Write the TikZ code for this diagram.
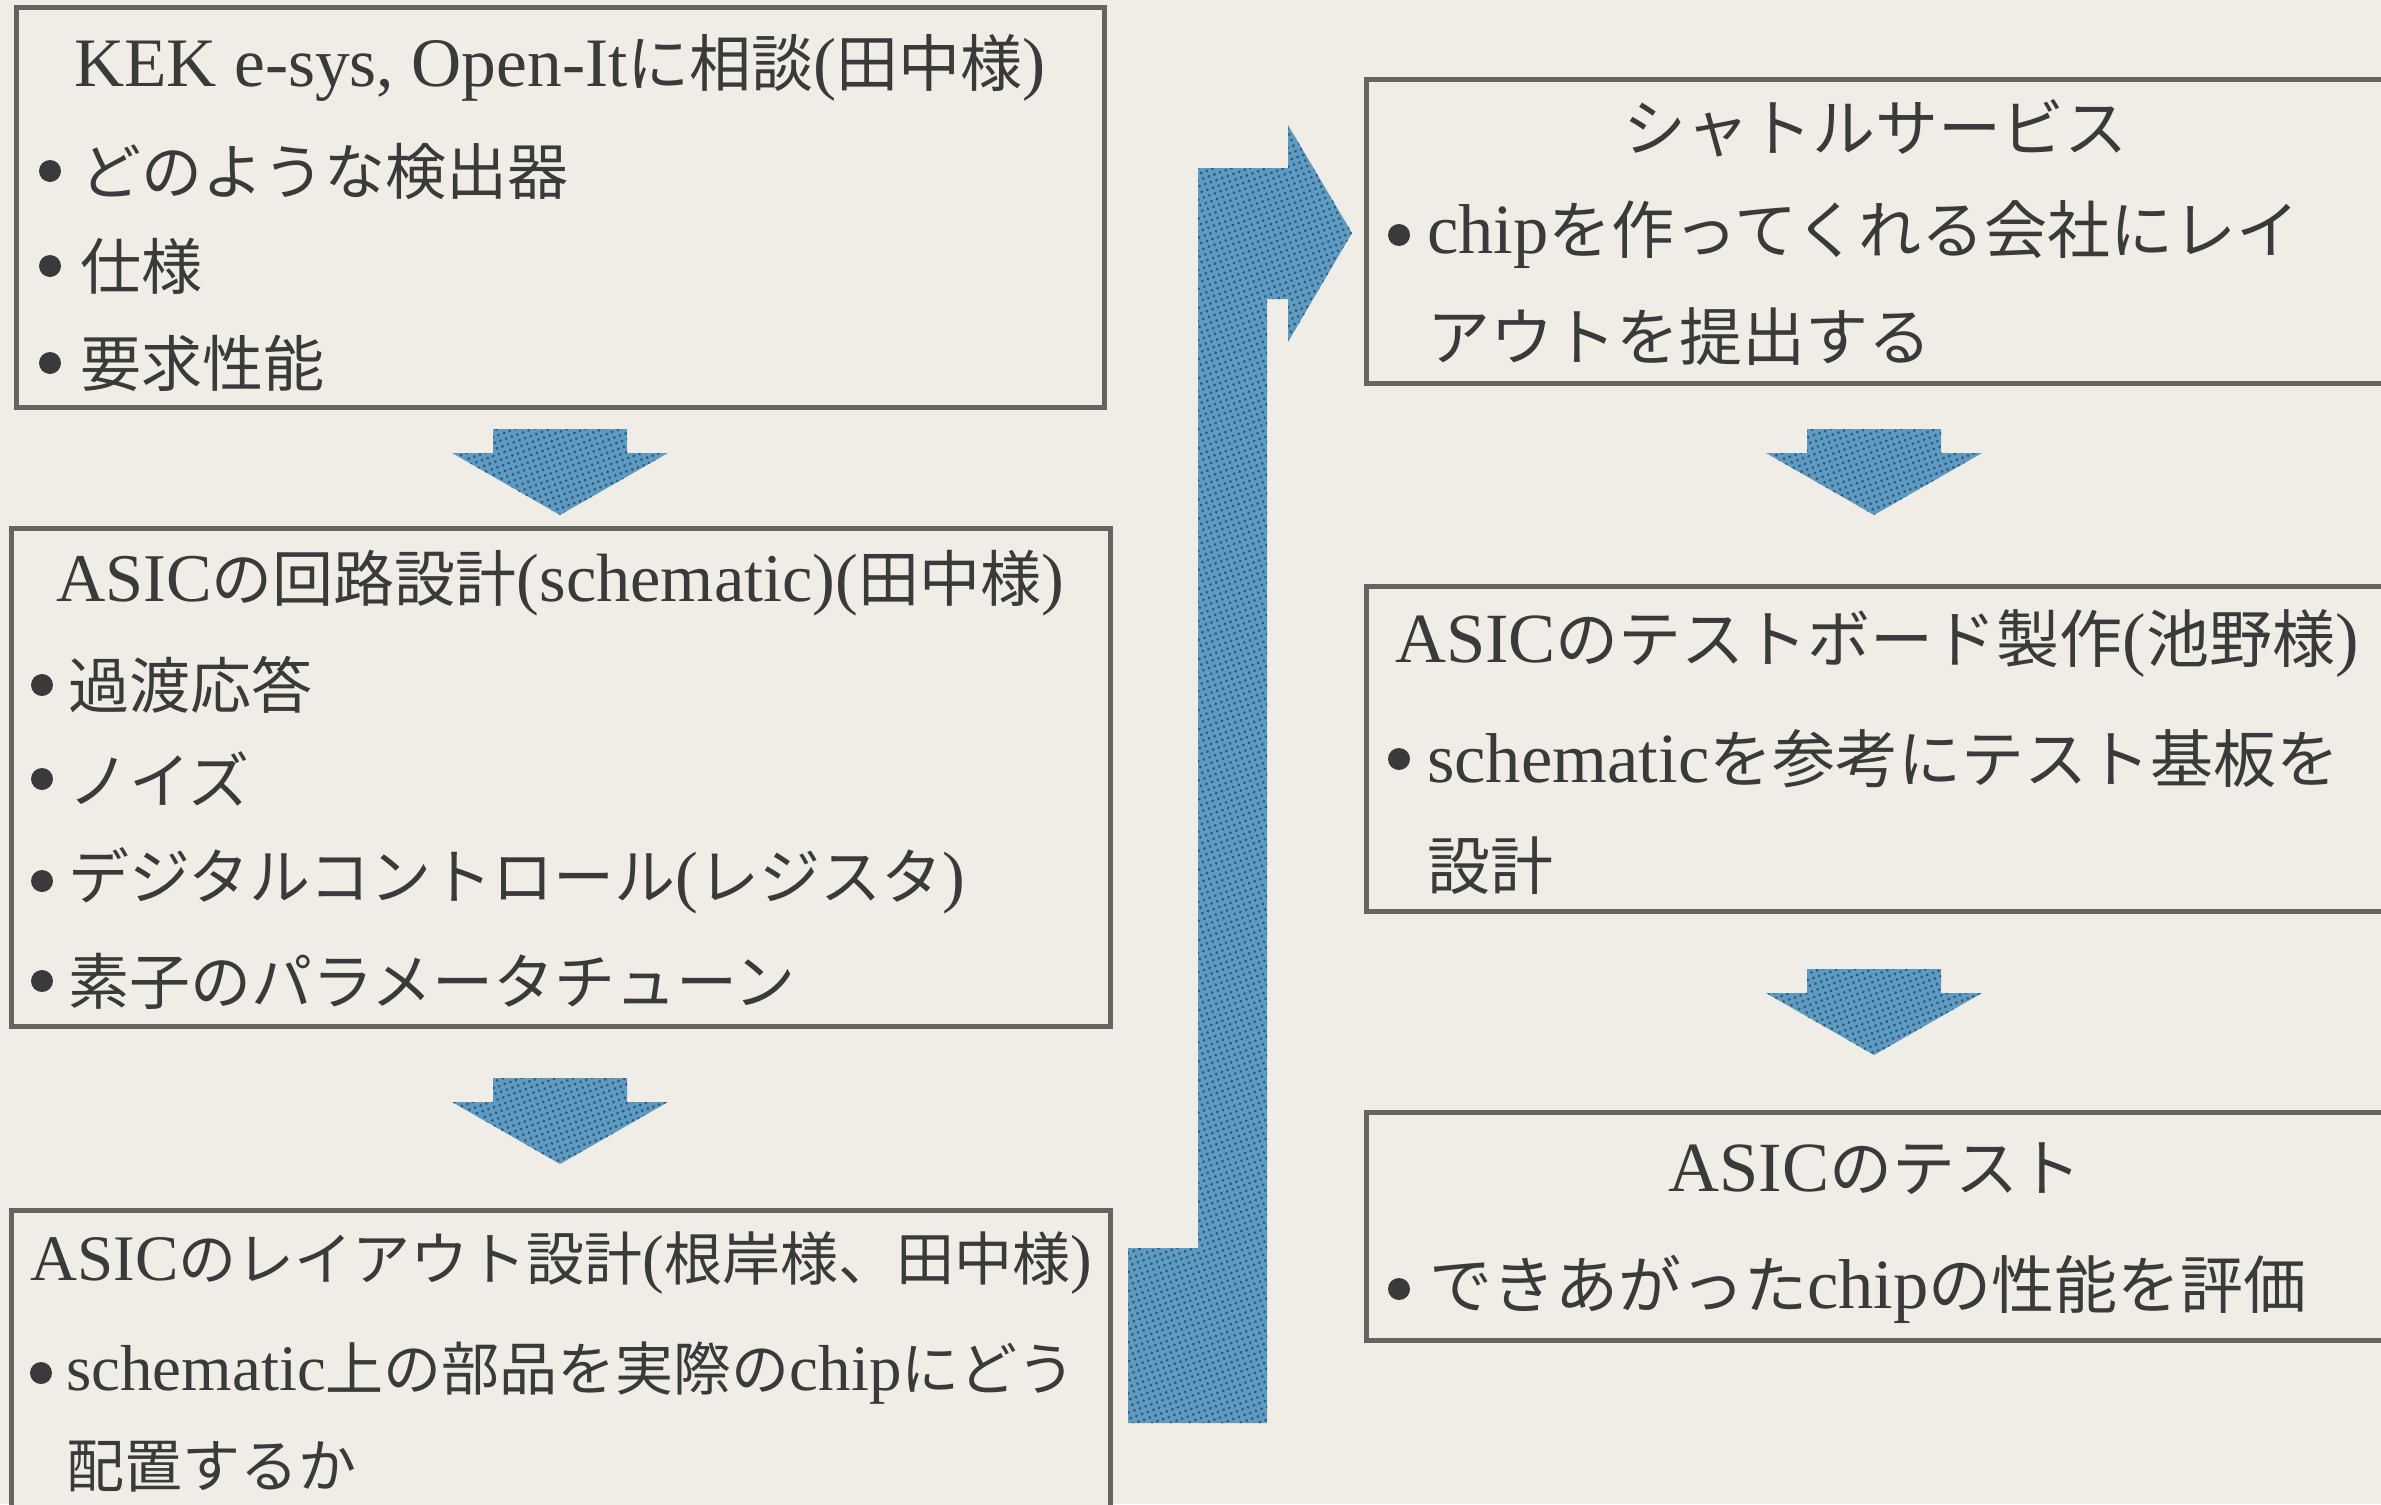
\documentclass[tikz,border=0pt]{standalone}
\usepackage{fontspec}
\setmainfont{Noto Sans CJK JP}
\newfontfamily\latfont[Scale=1.12]{Liberation Serif}
\newcommand\latn[1]{{\latfont #1}}
\usetikzlibrary{patterns.meta}
\definecolor{paper}{HTML}{F0EDE7}
\definecolor{boxline}{HTML}{67635E}
\definecolor{ink}{HTML}{3A3A3A}
\definecolor{arrowblue}{HTML}{5F9AC0}
\definecolor{dotblue}{HTML}{2C5C82}
\tikzset{
  box/.style={draw=boxline, line width=5pt, fill=paper, inner sep=0pt},
  txt/.style={text=ink, inner sep=0pt, font=\fontsize{61}{68}\selectfont},
  rtxt/.style={font=\fontsize{63}{70}\selectfont},
  ttl/.style={txt, anchor=center},
  itm/.style={txt, anchor=west},
  bul/.style={circle, fill=ink, minimum size=22pt, inner sep=0pt},
  blk/.style={fill=arrowblue, postaction={pattern={Dots[distance=6pt,radius=1.6pt,angle=20]}, pattern color=dotblue}}
}
\begin{document}
\begin{tikzpicture}[x=1pt,y=-1pt]
\fill[paper] (0,0) rectangle (2381,1504);
\useasboundingbox (0,0) rectangle (2381,1504);

% boxes
\node[box, minimum width=1088pt, minimum height=399pt] (b1) at (560,207.5) {};
\node[box, minimum width=1099pt, minimum height=498pt] (b2) at (560.5,777) {};
\node[box, minimum width=1099pt, minimum height=330pt] (b3) at (560.5,1375) {};
\node[box, minimum width=1030pt, minimum height=304pt] (r1) at (1881,231) {};
\node[box, minimum width=1030pt, minimum height=325pt] (r2) at (1881,748.5) {};
\node[box, minimum width=1030pt, minimum height=228pt] (r3) at (1881,1226) {};

% box 1
\node[ttl, font=\fontsize{62}{70}\selectfont] (t1) at (560,68) {\latn{KEK e-sys, Open-It}に相談\latn{(}田中様\latn{)}};
\node[bul] (u11) at (50,171) {};
\node[itm] (i11) at (80,171) {どのような検出器};
\node[bul] (u12) at (50,266) {};
\node[itm] (i12) at (80,266) {仕様};
\node[bul] (u13) at (50,363) {};
\node[itm] (i13) at (80,363) {要求性能};

% box 2
\node[ttl] (t2) at (560,583) {\latn{ASIC}の回路設計\latn{(schematic)(}田中様\latn{)}};
\node[bul] (u21) at (42,685) {};
\node[itm] (i21) at (68,685) {過渡応答};
\node[bul] (u22) at (42,779) {};
\node[itm] (i22) at (68,779) {ノイズ};
\node[bul] (u23) at (42,881) {};
\node[itm] (i23) at (68,881) {デジタルコントロール\latn{(}レジスタ\latn{)}};
\node[bul] (u24) at (42,981) {};
\node[itm] (i24) at (68,981) {素子のパラメータチューン};

% box 3
\node[ttl, font=\fontsize{58}{64}\selectfont] (t3) at (561,1263) {\latn{ASIC}のレイアウト設計\latn{(}根岸様、田中様\latn{)}};
\node[bul] (u31) at (41,1373) {};
\node[itm, font=\fontsize{58}{64}\selectfont] (i31) at (66,1373) {\latn{schematic}上の部品を実際の\latn{chip}にどう};
\node[itm, font=\fontsize{58}{64}\selectfont] (i32) at (66,1467) {配置するか};

% right box 1
\node[ttl, rtxt] (t4) at (1875,128) {シャトルサービス};
\node[bul] (u41) at (1399,235) {};
\node[itm, rtxt] (i41) at (1427,235) {\latn{chip}を作ってくれる会社にレイ};
\node[itm, rtxt] (i42) at (1427,337) {アウトを提出する};

% right box 2
\node[ttl, rtxt] (t5) at (1877,644) {\latn{ASIC}のテストボード製作\latn{(}池野様\latn{)}};
\node[bul] (u51) at (1399,759) {};
\node[itm, rtxt] (i51) at (1427,759) {\latn{schematic}を参考にテスト基板を};
\node[itm, rtxt] (i52) at (1427,866) {設計};

% right box 3
\node[ttl, rtxt] (t6) at (1875,1169) {\latn{ASIC}のテスト};
\node[bul] (u61) at (1399,1289) {};
\node[itm, rtxt] (i61) at (1429,1289) {できあがった\latn{chip}の性能を評価};

% down arrows
\foreach \cx/\y in {560/429, 560/1078, 1874/429, 1874/969}{
  \path[blk] (\cx-67,\y) -- (\cx+67,\y) -- (\cx+67,\y+24) -- (\cx+108,\y+24)
     -- (\cx,\y+86) -- (\cx-108,\y+24) -- (\cx-67,\y+24) -- cycle;
}

% big bent arrow
\path[blk] (1128,1423) -- (1128,1248) -- (1198,1248) -- (1198,168) -- (1288,168)
  -- (1288,125) -- (1352,233) -- (1288,342) -- (1288,299) -- (1267,299)
  -- (1267,1423) -- cycle;
\end{tikzpicture}
\end{document}
